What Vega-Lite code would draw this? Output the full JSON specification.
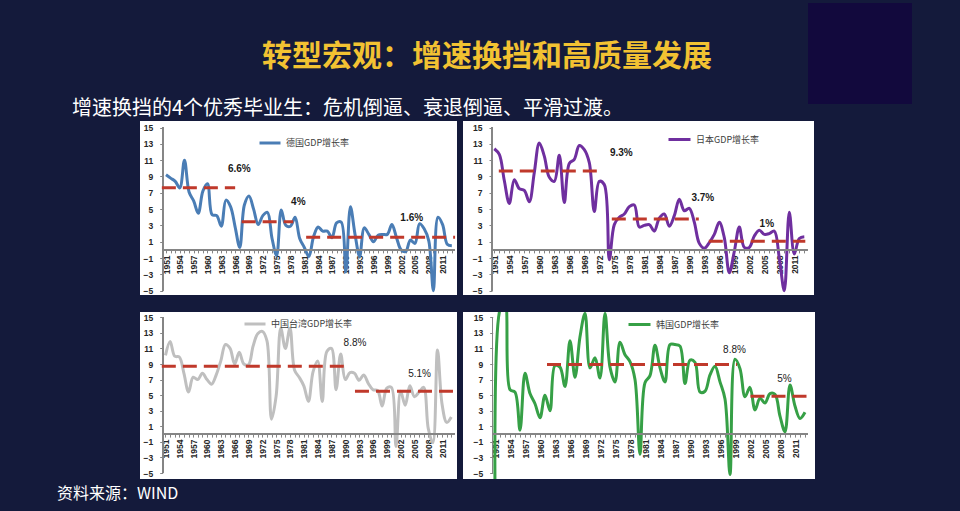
{
"$schema": "https://vega.github.io/schema/vega-lite/v6.json",
"background": "#141a3b",
"padding": 0,
"spacing": 0,
"config": {
  "view": {"stroke": null},
  "font": "Liberation Sans",
  "axis": {"grid": false, "domain": false, "labelFont": "Liberation Sans", "labelFontWeight": "bold", "labelColor": "#262626", "labelFontSize": 8.5, "tickColor": "#868686", "tickSize": 3, "labelFlush": false, "labelOverlap": false, "tickCount": 100}
},
"resolve": {"scale": {"color": "independent"}},
"vconcat": [
  {"hconcat": [
    {"vconcat": [
      {"width": 808, "height": 90, "data": {"values": []}, "mark": {"type": "point", "opacity": 0},
       "title": {"text": "转型宏观：增速换挡和高质量发展", "orient": "top", "anchor": "start", "frame": "group", "offset": 0, "dx": 262, "dy": 96, "baseline": "alphabetic", "font": "Noto Sans CJK SC", "fontSize": 30, "fontWeight": "bold", "color": "#f2c232", "limit": 2000}},
      {"width": 808, "height": 31, "data": {"values": []}, "mark": {"type": "point", "opacity": 0},
       "title": {"text": "增速换挡的4个优秀毕业生：危机倒逼、衰退倒逼、平滑过渡。", "orient": "top", "anchor": "start", "frame": "group", "offset": 0, "dx": 72, "dy": 44.6, "baseline": "alphabetic", "font": "Noto Sans CJK SC", "fontSize": 20, "fontWeight": "normal", "color": "#ffffff", "limit": 2000}}
    ], "spacing": 0},
    {"vconcat": [
      {"width": 104, "height": 3, "data": {"values": []}, "mark": {"type": "point", "opacity": 0}},
      {"width": 104, "height": 101, "data": {"values": []}, "mark": {"type": "point", "opacity": 0}, "view": {"fill": "#12093d", "stroke": null}}
    ], "spacing": 0},
    {"width": 48, "height": 121, "data": {"values": []}, "mark": {"type": "point", "opacity": 0}}
  ], "spacing": 0},
  {"hconcat": [
    {"width": 134, "height": 174, "data": {"values": []}, "mark": {"type": "point", "opacity": 0}},
    {"width": 317, "height": 174, "view": {"fill": "#ffffff", "stroke": null},
     "data": {"values": [
{"year":1951,"gdp":9.2},{"year":1952,"gdp":8.8},{"year":1953,"gdp":8.4},{"year":1954,"gdp":7.6},{"year":1955,"gdp":11.0},{"year":1956,"gdp":7.1},{"year":1957,"gdp":6.0},{"year":1958,"gdp":4.5},{"year":1959,"gdp":7.2},{"year":1960,"gdp":8.1},
{"year":1961,"gdp":4.3},{"year":1962,"gdp":4.2},{"year":1963,"gdp":2.9},{"year":1964,"gdp":6.1},{"year":1965,"gdp":5.3},{"year":1966,"gdp":2.8},{"year":1967,"gdp":0.3},{"year":1968,"gdp":5.5},{"year":1969,"gdp":6.6},{"year":1970,"gdp":5.0},
{"year":1971,"gdp":3.1},{"year":1972,"gdp":4.2},{"year":1973,"gdp":4.6},{"year":1974,"gdp":1.4},{"year":1975,"gdp":-0.7},{"year":1976,"gdp":4.9},{"year":1977,"gdp":3.0},{"year":1978,"gdp":2.9},{"year":1979,"gdp":4.0},{"year":1980,"gdp":1.4},
{"year":1981,"gdp":0.3},{"year":1982,"gdp":-0.8},{"year":1983,"gdp":1.6},{"year":1984,"gdp":2.8},{"year":1985,"gdp":2.3},{"year":1986,"gdp":2.3},{"year":1987,"gdp":1.5},{"year":1988,"gdp":3.3},{"year":1989,"gdp":3.4},{"year":1990,"gdp":-2.7},
{"year":1991,"gdp":5.3},{"year":1992,"gdp":1.9},{"year":1993,"gdp":-0.8},{"year":1994,"gdp":2.7},{"year":1995,"gdp":1.9},{"year":1996,"gdp":1.0},{"year":1997,"gdp":1.8},{"year":1998,"gdp":1.9},{"year":1999,"gdp":1.9},{"year":2000,"gdp":3.1},
{"year":2001,"gdp":1.5},{"year":2002,"gdp":0.0},{"year":2003,"gdp":-0.2},{"year":2004,"gdp":1.2},{"year":2005,"gdp":0.8},{"year":2006,"gdp":3.2},{"year":2007,"gdp":2.6},{"year":2008,"gdp":1.1},{"year":2009,"gdp":-5.0},{"year":2010,"gdp":4.0},
{"year":2011,"gdp":3.1},{"year":2012,"gdp":0.7},{"year":2013,"gdp":0.5}
     ]},
     "layer": [
      {"mark": {"type": "line", "interpolate": "catmull-rom", "strokeWidth": 3, "clip": true},
       "encoding": {
        "x": {"field": "year", "type": "quantitative", "title": null, "scale": {"domain": [1945.36, 2014.12], "nice": false, "zero": false},
              "axis": {"orient": "bottom", "offset": -45.1, "tickCount": 100, "labelOverlap": false, "labelFlush": false, "values": [1951,1952,1953,1954,1955,1956,1957,1958,1959,1960,1961,1962,1963,1964,1965,1966,1967,1968,1969,1970,1971,1972,1973,1974,1975,1976,1977,1978,1979,1980,1981,1982,1983,1984,1985,1986,1987,1988,1989,1990,1991,1992,1993,1994,1995,1996,1997,1998,1999,2000,2001,2002,2003,2004,2005,2006,2007,2008,2009,2010,2011,2012,2013], "format": "d", "labelExpr": "(datum.value - 1951) % 3 === 0 ? datum.label : ''", "labelAngle": -90, "labelPadding": 2}},
        "y": {"field": "gdp", "type": "quantitative", "title": null, "scale": {"domain": [-5.53, 15.8], "nice": false, "zero": false},
              "axis": {"orient": "left", "offset": -22.7, "tickCount": 100, "format": "d", "labelOverlap": false, "labelFlush": false, "values": [-5,-3,-1,1,3,5,7,9,11,13,15], "labelPadding": 7}},
        "color": {"datum": "德国GDP增长率", "type": "nominal", "scale": {"range": ["#4a7db5"]},
                  "legend": {"orient": "none", "legendX": 118, "legendY": 10, "title": null, "symbolType": "stroke", "symbolSize": 441, "symbolStrokeWidth": 3, "labelFont": "Noto Sans CJK SC", "labelFontSize": 9, "labelColor": "#404040", "padding": 0}}
       }},
      {"mark": {"type": "rule", "color": "#868686", "strokeWidth": 1}, "encoding": {"x": {"datum": 1950.3}, "y": {"datum": -5}, "y2": {"datum": 15}}},
      {"mark": {"type": "rule", "color": "#868686", "strokeWidth": 1}, "encoding": {"x": {"datum": 1950.3}, "x2": {"datum": 2013.6}, "y": {"datum": 0}}},
      {"data": {"values": [{"start": 1950.1, "end": 1966.0, "avg": 7.62}, {"start": 1967.4, "end": 1978.6, "avg": 3.46}, {"start": 1981.4, "end": 2013.7, "avg": 1.54}]},
       "mark": {"type": "rule", "color": "#c0392b", "strokeWidth": 3, "strokeDash": [14, 7]},
       "encoding": {"x": {"field": "start", "type": "quantitative", "title": null}, "x2": {"field": "end", "title": null}, "y": {"field": "avg", "type": "quantitative", "title": null}}},
      {"data": {"values": [{"year": 1966.9, "pos": 9.88, "label": "6.6%"}, {"year": 1979.7, "pos": 5.91, "label": "4%"}, {"year": 2004.3, "pos": 3.87, "label": "1.6%"}]},
       "mark": {"type": "text", "font": "Liberation Sans", "fontSize": 10, "fontWeight": "bold", "color": "#1a1a1a"},
       "encoding": {"x": {"field": "year", "type": "quantitative", "title": null}, "y": {"field": "pos", "type": "quantitative", "title": null}, "text": {"field": "label"}}}
     ]},
    {"width": 351, "height": 174, "view": {"fill": "#ffffff", "stroke": null},
     "data": {"values": [
{"year":1951,"gdp":12.4},{"year":1952,"gdp":11.7},{"year":1953,"gdp":8.5},{"year":1954,"gdp":5.7},{"year":1955,"gdp":8.6},{"year":1956,"gdp":7.5},{"year":1957,"gdp":7.3},{"year":1958,"gdp":5.9},{"year":1959,"gdp":9.5},{"year":1960,"gdp":13.1},
{"year":1961,"gdp":11.5},{"year":1962,"gdp":8.9},{"year":1963,"gdp":8.4},{"year":1964,"gdp":11.6},{"year":1965,"gdp":5.8},{"year":1966,"gdp":10.6},{"year":1967,"gdp":11.1},{"year":1968,"gdp":12.8},{"year":1969,"gdp":12.3},{"year":1970,"gdp":10.7},
{"year":1971,"gdp":4.7},{"year":1972,"gdp":8.4},{"year":1973,"gdp":8.0},{"year":1974,"gdp":-1.2},{"year":1975,"gdp":3.1},{"year":1976,"gdp":4.0},{"year":1977,"gdp":4.4},{"year":1978,"gdp":5.3},{"year":1979,"gdp":5.5},{"year":1980,"gdp":2.8},
{"year":1981,"gdp":3.0},{"year":1982,"gdp":3.1},{"year":1983,"gdp":2.3},{"year":1984,"gdp":3.9},{"year":1985,"gdp":4.4},{"year":1986,"gdp":2.9},{"year":1987,"gdp":4.2},{"year":1988,"gdp":6.2},{"year":1989,"gdp":4.8},{"year":1990,"gdp":5.1},
{"year":1991,"gdp":3.4},{"year":1992,"gdp":0.8},{"year":1993,"gdp":0.2},{"year":1994,"gdp":0.9},{"year":1995,"gdp":1.9},{"year":1996,"gdp":3.4},{"year":1997,"gdp":1.5},{"year":1998,"gdp":-2.8},{"year":1999,"gdp":-0.2},{"year":2000,"gdp":2.8},
{"year":2001,"gdp":0.3},{"year":2002,"gdp":0.3},{"year":2003,"gdp":1.7},{"year":2004,"gdp":2.4},{"year":2005,"gdp":1.9},{"year":2006,"gdp":2.0},{"year":2007,"gdp":2.3},{"year":2008,"gdp":-1.0},{"year":2009,"gdp":-5.0},{"year":2010,"gdp":4.6},
{"year":2011,"gdp":-0.5},{"year":2012,"gdp":1.4},{"year":2013,"gdp":1.6}
     ]},
     "layer": [
      {"mark": {"type": "line", "interpolate": "catmull-rom", "strokeWidth": 3, "clip": true},
       "encoding": {
        "x": {"field": "year", "type": "quantitative", "title": null, "scale": {"domain": [1944.74, 2014.94], "nice": false, "zero": false},
              "axis": {"orient": "bottom", "offset": -45.1, "tickCount": 100, "labelOverlap": false, "labelFlush": false, "values": [1951,1952,1953,1954,1955,1956,1957,1958,1959,1960,1961,1962,1963,1964,1965,1966,1967,1968,1969,1970,1971,1972,1973,1974,1975,1976,1977,1978,1979,1980,1981,1982,1983,1984,1985,1986,1987,1988,1989,1990,1991,1992,1993,1994,1995,1996,1997,1998,1999,2000,2001,2002,2003,2004,2005,2006,2007,2008,2009,2010,2011,2012,2013], "format": "d", "labelExpr": "(datum.value - 1951) % 3 === 0 ? datum.label : ''", "labelAngle": -90, "labelPadding": 2}},
        "y": {"field": "gdp", "type": "quantitative", "title": null, "scale": {"domain": [-5.53, 15.8], "nice": false, "zero": false},
              "axis": {"orient": "left", "offset": -29, "tickCount": 100, "format": "d", "labelOverlap": false, "labelFlush": false, "values": [-5,-3,-1,1,3,5,7,9,11,13,15], "labelPadding": 7}},
        "color": {"datum": "日本GDP增长率", "type": "nominal", "scale": {"range": ["#6f2f9f"]},
                  "legend": {"orient": "none", "legendX": 204, "legendY": 6, "title": null, "symbolType": "stroke", "symbolSize": 484, "symbolStrokeWidth": 3, "labelFont": "Noto Sans CJK SC", "labelFontSize": 9, "labelColor": "#404040", "padding": 0}}
       }},
      {"mark": {"type": "rule", "color": "#868686", "strokeWidth": 1}, "encoding": {"x": {"datum": 1950.5}, "y": {"datum": -5}, "y2": {"datum": 15}}},
      {"mark": {"type": "rule", "color": "#868686", "strokeWidth": 1}, "encoding": {"x": {"datum": 1950.5}, "x2": {"datum": 2013.6}, "y": {"datum": 0}}},
      {"data": {"values": [{"start": 1951.9, "end": 1972.9, "avg": 9.67}, {"start": 1974.5, "end": 1991.9, "avg": 3.79}, {"start": 1993.9, "end": 2013.2, "avg": 1.05}]},
       "mark": {"type": "rule", "color": "#c0392b", "strokeWidth": 3, "strokeDash": [14, 7]},
       "encoding": {"x": {"field": "start", "type": "quantitative", "title": null}, "x2": {"field": "end", "title": null}, "y": {"field": "avg", "type": "quantitative", "title": null}}},
      {"data": {"values": [{"year": 1976.4, "pos": 11.84, "label": "9.3%"}, {"year": 1992.7, "pos": 6.32, "label": "3.7%"}, {"year": 2005.5, "pos": 3.17, "label": "1%"}]},
       "mark": {"type": "text", "font": "Liberation Sans", "fontSize": 10, "fontWeight": "bold", "color": "#1a1a1a"},
       "encoding": {"x": {"field": "year", "type": "quantitative", "title": null}, "y": {"field": "pos", "type": "quantitative", "title": null}, "text": {"field": "label"}}}
     ]}
  ], "spacing": 6, "resolve": {"scale": {"color": "independent"}}},
  {"width": 10, "height": 16, "data": {"values": []}, "mark": {"type": "point", "opacity": 0}},
  {"hconcat": [
    {"width": 134, "height": 167, "data": {"values": []}, "mark": {"type": "point", "opacity": 0}},
    {"width": 317, "height": 167, "view": {"fill": "#ffffff", "stroke": null},
     "data": {"values": [
{"year":1951,"gdp":10.1},{"year":1952,"gdp":11.9},{"year":1953,"gdp":10.0},{"year":1954,"gdp":9.9},{"year":1955,"gdp":7.8},{"year":1956,"gdp":5.4},{"year":1957,"gdp":7.3},{"year":1958,"gdp":7.0},{"year":1959,"gdp":7.8},{"year":1960,"gdp":7.0},
{"year":1961,"gdp":6.4},{"year":1962,"gdp":7.6},{"year":1963,"gdp":9.4},{"year":1964,"gdp":11.5},{"year":1965,"gdp":11.0},{"year":1966,"gdp":9.0},{"year":1967,"gdp":10.5},{"year":1968,"gdp":9.0},{"year":1969,"gdp":8.9},{"year":1970,"gdp":11.3},
{"year":1971,"gdp":12.9},{"year":1972,"gdp":13.2},{"year":1973,"gdp":12.0},{"year":1974,"gdp":1.9},{"year":1975,"gdp":4.9},{"year":1976,"gdp":13.6},{"year":1977,"gdp":11.0},{"year":1978,"gdp":13.6},{"year":1979,"gdp":8.2},{"year":1980,"gdp":7.3},
{"year":1981,"gdp":6.2},{"year":1982,"gdp":4.2},{"year":1983,"gdp":8.0},{"year":1984,"gdp":9.4},{"year":1985,"gdp":4.2},{"year":1986,"gdp":10.6},{"year":1987,"gdp":11.0},{"year":1988,"gdp":5.7},{"year":1989,"gdp":10.3},{"year":1990,"gdp":7.0},
{"year":1991,"gdp":7.9},{"year":1992,"gdp":7.8},{"year":1993,"gdp":6.9},{"year":1994,"gdp":7.6},{"year":1995,"gdp":6.5},{"year":1996,"gdp":5.7},{"year":1997,"gdp":5.6},{"year":1998,"gdp":3.6},{"year":1999,"gdp":5.9},{"year":2000,"gdp":6.0},
{"year":2001,"gdp":-1.6},{"year":2002,"gdp":5.5},{"year":2003,"gdp":3.7},{"year":2004,"gdp":6.2},{"year":2005,"gdp":4.8},{"year":2006,"gdp":5.4},{"year":2007,"gdp":6.0},{"year":2008,"gdp":0.7},{"year":2009,"gdp":-1.1},{"year":2010,"gdp":10.8},
{"year":2011,"gdp":3.8},{"year":2012,"gdp":1.5},{"year":2013,"gdp":2.2}
     ]},
     "layer": [
      {"mark": {"type": "line", "interpolate": "catmull-rom", "strokeWidth": 3, "clip": true},
       "encoding": {
        "x": {"field": "year", "type": "quantitative", "title": null, "scale": {"domain": [1945.47, 2014.23], "nice": false, "zero": false},
              "axis": {"orient": "bottom", "offset": -44.9, "tickCount": 100, "labelOverlap": false, "labelFlush": false, "values": [1951,1952,1953,1954,1955,1956,1957,1958,1959,1960,1961,1962,1963,1964,1965,1966,1967,1968,1969,1970,1971,1972,1973,1974,1975,1976,1977,1978,1979,1980,1981,1982,1983,1984,1985,1986,1987,1988,1989,1990,1991,1992,1993,1994,1995,1996,1997,1998,1999,2000,2001,2002,2003,2004,2005,2006,2007,2008,2009,2010,2011,2012,2013], "format": "d", "labelExpr": "(datum.value - 1951) % 3 === 0 ? datum.label : ''", "labelAngle": -90, "labelPadding": 2}},
        "y": {"field": "gdp", "type": "quantitative", "title": null, "scale": {"domain": [-5.77, 15.68], "nice": false, "zero": false},
              "axis": {"orient": "left", "offset": -22.7, "tickCount": 100, "format": "d", "labelOverlap": false, "labelFlush": false, "values": [-5,-3,-1,1,3,5,7,9,11,13,15], "labelPadding": 7}},
        "color": {"datum": "中国台湾GDP增长率", "type": "nominal", "scale": {"range": ["#bfbfbf"]},
                  "legend": {"orient": "none", "legendX": 103, "legendY": 0, "title": null, "symbolType": "stroke", "symbolSize": 441, "symbolStrokeWidth": 3, "labelFont": "Noto Sans CJK SC", "labelFontSize": 9, "labelColor": "#404040", "padding": 0}}
       }},
      {"mark": {"type": "rule", "color": "#868686", "strokeWidth": 1}, "encoding": {"x": {"datum": 1950.4}, "y": {"datum": -5}, "y2": {"datum": 15}}},
      {"mark": {"type": "rule", "color": "#868686", "strokeWidth": 1}, "encoding": {"x": {"datum": 1950.4}, "x2": {"datum": 2013.6}, "y": {"datum": 0}}},
      {"data": {"values": [{"start": 1950.2, "end": 1989.7, "avg": 8.71}, {"start": 1992.1, "end": 2013.4, "avg": 5.49}]},
       "mark": {"type": "rule", "color": "#c0392b", "strokeWidth": 3, "strokeDash": [14, 7]},
       "encoding": {"x": {"field": "start", "type": "quantitative", "title": null}, "x2": {"field": "end", "title": null}, "y": {"field": "avg", "type": "quantitative", "title": null}}},
      {"data": {"values": [{"year": 1992.1, "pos": 11.66, "label": "8.8%"}, {"year": 2006.1, "pos": 7.72, "label": "5.1%"}]},
       "mark": {"type": "text", "font": "Liberation Sans", "fontSize": 10, "color": "#1a1a1a"},
       "encoding": {"x": {"field": "year", "type": "quantitative", "title": null}, "y": {"field": "pos", "type": "quantitative", "title": null}, "text": {"field": "label"}}}
     ]},
    {"width": 352, "height": 167, "view": {"fill": "#ffffff", "stroke": null},
     "data": {"values": [
{"year":1951,"gdp":-7.0},{"year":1952,"gdp":16.0},{"year":1953,"gdp":17.0},{"year":1954,"gdp":5.7},{"year":1955,"gdp":5.4},{"year":1956,"gdp":0.5},{"year":1957,"gdp":7.8},{"year":1958,"gdp":5.2},{"year":1959,"gdp":3.9},{"year":1960,"gdp":2.1},
{"year":1961,"gdp":5.0},{"year":1962,"gdp":3.0},{"year":1963,"gdp":8.8},{"year":1964,"gdp":8.6},{"year":1965,"gdp":6.1},{"year":1966,"gdp":12.0},{"year":1967,"gdp":7.3},{"year":1968,"gdp":12.5},{"year":1969,"gdp":15.5},{"year":1970,"gdp":8.5},
{"year":1971,"gdp":9.8},{"year":1972,"gdp":7.2},{"year":1973,"gdp":15.5},{"year":1974,"gdp":8.6},{"year":1975,"gdp":6.7},{"year":1976,"gdp":11.8},{"year":1977,"gdp":10.2},{"year":1978,"gdp":9.3},{"year":1979,"gdp":7.0},{"year":1980,"gdp":-2.6},
{"year":1981,"gdp":6.6},{"year":1982,"gdp":7.5},{"year":1983,"gdp":11.4},{"year":1984,"gdp":8.5},{"year":1985,"gdp":6.7},{"year":1986,"gdp":11.5},{"year":1987,"gdp":11.5},{"year":1988,"gdp":11.3},{"year":1989,"gdp":6.5},{"year":1990,"gdp":9.5},
{"year":1991,"gdp":9.2},{"year":1992,"gdp":5.4},{"year":1993,"gdp":5.5},{"year":1994,"gdp":7.6},{"year":1995,"gdp":8.7},{"year":1996,"gdp":6.7},{"year":1997,"gdp":4.5},{"year":1998,"gdp":-5.2},{"year":1999,"gdp":9.6},{"year":2000,"gdp":8.4},
{"year":2001,"gdp":4.8},{"year":2002,"gdp":6.0},{"year":2003,"gdp":3.1},{"year":2004,"gdp":4.6},{"year":2005,"gdp":4.0},{"year":2006,"gdp":5.2},{"year":2007,"gdp":5.1},{"year":2008,"gdp":2.3},{"year":2009,"gdp":0.3},{"year":2010,"gdp":6.3},
{"year":2011,"gdp":3.6},{"year":2012,"gdp":2.0},{"year":2013,"gdp":2.8}
     ]},
     "layer": [
      {"mark": {"type": "line", "interpolate": "catmull-rom", "strokeWidth": 3, "clip": true},
       "encoding": {
        "x": {"field": "year", "type": "quantitative", "title": null, "scale": {"domain": [1944.6, 2015.0], "nice": false, "zero": false},
              "axis": {"orient": "bottom", "offset": -44.9, "tickCount": 100, "labelOverlap": false, "labelFlush": false, "values": [1951,1952,1953,1954,1955,1956,1957,1958,1959,1960,1961,1962,1963,1964,1965,1966,1967,1968,1969,1970,1971,1972,1973,1974,1975,1976,1977,1978,1979,1980,1981,1982,1983,1984,1985,1986,1987,1988,1989,1990,1991,1992,1993,1994,1995,1996,1997,1998,1999,2000,2001,2002,2003,2004,2005,2006,2007,2008,2009,2010,2011,2012,2013], "format": "d", "labelExpr": "(datum.value - 1951) % 3 === 0 ? datum.label : ''", "labelAngle": -90, "labelPadding": 2}},
        "y": {"field": "gdp", "type": "quantitative", "title": null, "scale": {"domain": [-5.77, 15.68], "nice": false, "zero": false},
              "axis": {"orient": "left", "offset": -29.7, "tickCount": 100, "format": "d", "labelOverlap": false, "labelFlush": false, "values": [-5,-3,-1,1,3,5,7,9,11,13,15], "labelPadding": 7}},
        "color": {"datum": "韩国GDP增长率", "type": "nominal", "scale": {"range": ["#36a046"]},
                  "legend": {"orient": "none", "legendX": 164, "legendY": 0, "title": null, "symbolType": "stroke", "symbolSize": 484, "symbolStrokeWidth": 3, "labelFont": "Noto Sans CJK SC", "labelFontSize": 9, "labelColor": "#404040", "padding": 0}}
       }},
      {"mark": {"type": "rule", "color": "#868686", "strokeWidth": 1}, "encoding": {"x": {"datum": 1950.5}, "y": {"datum": -5}, "y2": {"datum": 15}}},
      {"mark": {"type": "rule", "color": "#868686", "strokeWidth": 1}, "encoding": {"x": {"datum": 1950.5}, "x2": {"datum": 2013.6}, "y": {"datum": 0}}},
      {"data": {"values": [{"start": 1961.4, "end": 1999.4, "avg": 8.95}, {"start": 2002.1, "end": 2013.7, "avg": 4.85}]},
       "mark": {"type": "rule", "color": "#c0392b", "strokeWidth": 3, "strokeDash": [14, 7]},
       "encoding": {"x": {"field": "start", "type": "quantitative", "title": null}, "x2": {"field": "end", "title": null}, "y": {"field": "avg", "type": "quantitative", "title": null}}},
      {"data": {"values": [{"year": 1998.9, "pos": 10.84, "label": "8.8%"}, {"year": 2008.9, "pos": 7.07, "label": "5%"}]},
       "mark": {"type": "text", "font": "Liberation Sans", "fontSize": 10, "color": "#1a1a1a"},
       "encoding": {"x": {"field": "year", "type": "quantitative", "title": null}, "y": {"field": "pos", "type": "quantitative", "title": null}, "text": {"field": "label"}}}
     ]}
  ], "spacing": 6, "resolve": {"scale": {"color": "independent"}}},
  {"width": 960, "height": 33, "data": {"values": []}, "mark": {"type": "point", "opacity": 0},
   "title": {"text": "资料来源：WIND", "orient": "top", "anchor": "start", "frame": "group", "offset": 0, "dx": 57, "dy": 36, "baseline": "alphabetic", "font": "Noto Sans CJK SC", "fontSize": 16, "fontWeight": "normal", "color": "#ffffff", "limit": 1000}}
]
}
